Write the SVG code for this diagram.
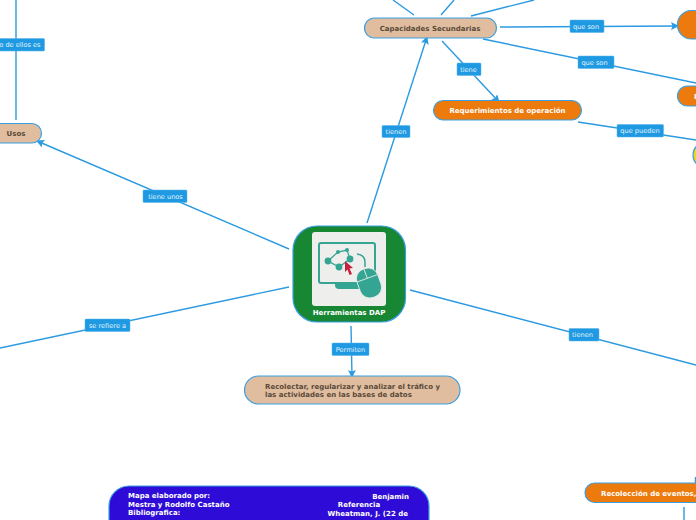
<svg xmlns="http://www.w3.org/2000/svg" width="696" height="520" viewBox="0 0 696 520">
<style>
text{font-family:"DejaVu Sans",Verdana,sans-serif;font-size:7px}
.b{font-weight:700}
.c{text-anchor:middle}
.e{text-anchor:end}
.n{stroke:#3a9fe2;stroke-width:1.200}
.tan{fill:#e0bd9f}
.or{fill:#ec7a0d}
.dk{fill:#5a4a3a}
.w{fill:#fff}
.l{fill:#1f9ae2;stroke:#57b2ea;stroke-width:.5}
.lt{fill:#e3f2fc;font-size:6.6px}
.cn{fill:none;stroke:#2b9ae0;stroke-width:1.4}
.t{fill:#35a593}
.ts{fill:none;stroke:#35a593}
</style>
<defs>
<marker id="a" viewBox="0 0 8 8" refX="7" refY="4" markerWidth="8" markerHeight="8" markerUnits="userSpaceOnUse" orient="auto"><path d="M0 0L8 4L0 8L1.5 4Z" fill="#2b9ae0"/></marker>
</defs>
<rect width="696" height="520" fill="#fff"/>
<g id="connectors">
<path class="cn" marker-end="url(#a)" d="M367 223L427 37"/>
<path class="cn" marker-end="url(#a)" d="M289 249L37 141"/>
<path class="cn" d="M289 287L0 348"/>
<path class="cn" marker-end="url(#a)" d="M351 326L352 377"/>
<path class="cn" d="M410 290L696 365"/>
<path class="cn" d="M414 15L393 0M441 15L454 0M471 16L534 0"/>
<path class="cn" marker-end="url(#a)" d="M500 27L678 26"/>
<path class="cn" d="M483 39L696 83"/>
<path class="cn" marker-end="url(#a)" d="M442 41L499 102"/>
<path class="cn" d="M578 122L696 140"/>
<path class="cn" d="M16 120V0"/>
<path class="cn" d="M695.500 477V483M684 507V520"/>
</g>
<g id="center">
<rect class="n" x="293" y="226" width="112.500" height="96" rx="24" fill="#178734"/>
<rect x="312" y="232" width="74" height="74" rx="3" fill="#eeeeec"/>
<rect class="ts" x="319" y="243" width="56" height="40" rx="2" stroke-width="2"/>
<path class="t" d="M335 283H360V289H339Q335 289 335 285Z"/>
<path class="ts" stroke-width="1.300" d="M328 261L338 252L347 250L350 259L339 267Z"/>
<circle class="t" cx="328" cy="261" r="3.400"/><circle class="t" cx="338" cy="252" r="2"/><circle class="t" cx="347" cy="250" r="2"/><circle class="t" cx="350" cy="259" r="3.400"/><circle class="t" cx="339" cy="267" r="3.400"/>
<path d="M345 261L353 268L349.500 268.500L352 274L349.500 275L347.500 269.500L345 272Z" fill="#c8203c"/>
<path class="ts" stroke-width="1.500" d="M357 254Q365 255 365 262V267"/>
<g transform="rotate(-20 369 283)"><rect x="358" y="268" width="22" height="30" rx="10" fill="#35a593" stroke="#eeeeec" stroke-width=".8"/><path d="M358 278H380M369 268V278" fill="none" stroke="#eeeeec" stroke-width=".8"/></g>
<text class="b c w" x="349" y="315">Herramientas DAP</text>
</g>
<g id="cap"><rect class="n tan" x="364.500" y="18" width="132" height="20" rx="10"/><text class="b c dk" x="430" y="31">Capacidades Secundarias</text></g>
<g id="req"><rect class="n or" x="433.500" y="100.500" width="148" height="19.500" rx="9.700"/><text class="b c w" x="507.500" y="113">Requerimientos de operación</text></g>
<g id="usos"><rect class="n tan" x="-30" y="123.500" width="71.500" height="19.500" rx="9.700"/><text class="b c dk" x="16" y="136">Usos</text></g>
<g id="recolectar"><rect class="n tan" x="244.500" y="376" width="215.500" height="28" rx="14"/><text class="b dk" x="265" y="389">Recolectar, regularizar y analizar el tráfico y</text><text class="b dk" x="265" y="397">las actividades en las bases de datos</text></g>
<g id="mapa"><rect class="n" x="109" y="486" width="320" height="60" rx="20" fill="#2e0bd6"/>
<text class="b w" x="128" y="498">Mapa elaborado por:</text>
<text class="b e w" x="409" y="499">Benjamin</text>
<text class="b w" x="128" y="507">Mestra y Rodolfo Castaño</text>
<text class="b c w" x="359" y="507">Referencia</text>
<text class="b w" x="128" y="515">Bibliografica:</text>
<text class="b e w" x="408" y="516">Wheatman, J. (22 de</text>
</g>
<g id="recoleccion"><rect class="n or" x="585" y="483" width="150" height="19.500" rx="9.700"/><text class="b w" x="601" y="496">Recolección de eventos,</text></g>
<g id="r1"><rect class="n or" x="677.500" y="10.500" width="60" height="28.500" rx="14"/></g>
<g id="r2"><rect class="n or" x="677.500" y="86" width="60" height="20" rx="10"/><text class="b w" x="694" y="99">I</text></g>
<g id="r3"><circle cx="706" cy="155" r="13" fill="#f2d90f" stroke="#3a9fe2" stroke-width="1.200"/></g>
<g id="labels">
<g><rect class="l" x="382" y="125.500" width="28" height="12" rx="1"/><text class="lt c" x="396" y="134">tienen</text></g>
<g><rect class="l" x="143" y="190" width="44" height="12.500" rx="1"/><text class="lt c" x="165.500" y="198.500">tiene unos</text></g>
<g><rect class="l" x="85" y="319" width="45" height="12.500" rx="1"/><text class="lt c" x="107.500" y="327.500">se refiere a</text></g>
<g><rect class="l" x="332" y="343" width="37" height="12.500" rx="1"/><text class="lt c" x="350.500" y="351.500">Permiten</text></g>
<g><rect class="l" x="569" y="328.500" width="30" height="12.500" rx="1"/><text class="lt" x="572" y="337">tienen</text></g>
<g><rect class="l" x="570" y="20" width="34" height="12.500" rx="1"/><text class="lt c" x="586" y="29">que son</text></g>
<g><rect class="l" x="578" y="56" width="36" height="12.500" rx="1"/><text class="lt c" x="594.500" y="65">que son</text></g>
<g><rect class="l" x="457" y="63" width="24" height="12.500" rx="1"/><text class="lt c" x="468.500" y="72">tiene</text></g>
<g><rect class="l" x="617" y="124.500" width="46.500" height="12.500" rx="1"/><text class="lt c" x="640" y="133">que pueden</text></g>
<g><rect class="l" x="-20" y="38.500" width="64.500" height="12.500" rx="1"/><text class="lt e" x="40.500" y="47">o de ellos es</text></g>
</g>
</svg>
